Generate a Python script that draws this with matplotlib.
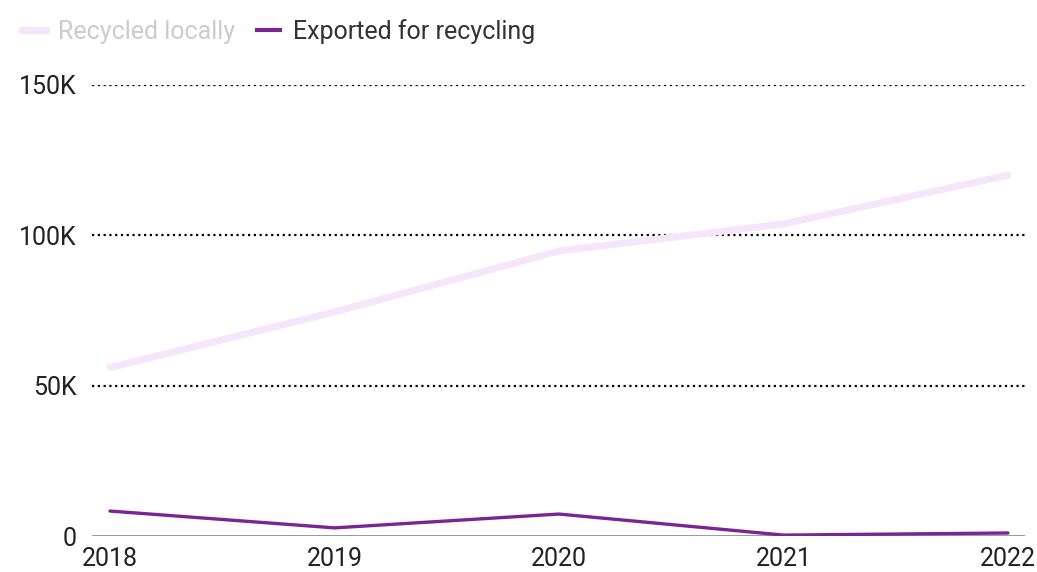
import matplotlib.pyplot as plt
from matplotlib.lines import Line2D
from matplotlib.ticker import FuncFormatter

plt.rcParams['font.family'] = ['Roboto', 'DejaVu Sans']

# Data
years = [2018, 2019, 2020, 2021, 2022]
recycled_locally = [56000, 74500, 94800, 103800, 120000]
exported = [8300, 2700, 7300, 300, 1000]

fig = plt.figure(figsize=(10.37, 5.72), dpi=100)
ax = fig.add_axes([92 / 1037, 1 - 536 / 572, (1025 - 92) / 1037, (536 - 85) / 572])

c_local = "#f6e6fa"
c_export = "#7b2494"

ax.plot(years, recycled_locally, color=c_local, lw=5, solid_capstyle='round', zorder=3)
ax.plot(years, exported, color=c_export, lw=2.4, solid_capstyle='round', zorder=4)

ax.set_xlim(2018 - 18 / 224.5, 2022 + 17 / 224.5)
ax.set_ylim(0, 150000)
ax.set_xticks(years)
ax.set_yticks([0, 50000, 100000, 150000])
ax.yaxis.set_major_formatter(FuncFormatter(lambda v, p: "0" if v == 0 else f"{int(v / 1000)}K"))

for s in ax.spines.values():
    s.set_visible(False)
ax.tick_params(length=0, labelsize=18, colors="#222222")
ax.tick_params(axis='y', pad=11)
ax.tick_params(axis='x', pad=8)

for v in [50000, 100000, 150000]:
    ax.axhline(v, color="black", lw=1.6, ls=(0, (1, 1.6)), zorder=1)
ax.axhline(0, color="#888888", lw=1.2, zorder=2)

handles = [Line2D([], [], color=c_local, lw=5), Line2D([], [], color=c_export, lw=3)]
leg = fig.legend(handles, ["Recycled locally", "Exported for recycling"], loc='upper left',
                 bbox_to_anchor=(22 / 1037, 1 - 19 / 572), ncol=2, frameon=False, fontsize=18,
                 handlelength=0.95, handletextpad=0.5, columnspacing=0.85,
                 borderaxespad=0, borderpad=0)
txts = leg.get_texts()
txts[0].set_color("#cccccc")
txts[1].set_color("#333333")

fig.savefig("out.png", dpi=100)
